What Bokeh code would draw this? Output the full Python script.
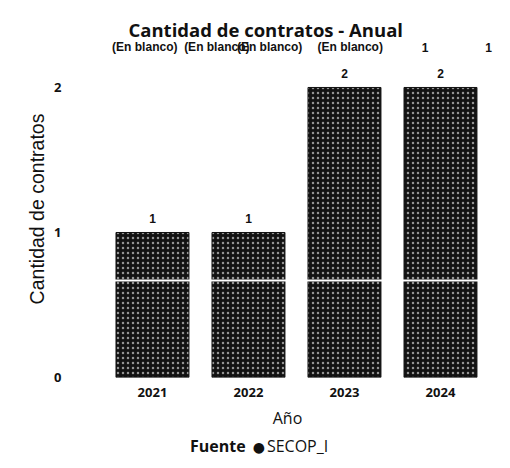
from bokeh.plotting import figure
from bokeh.models import ColumnDataSource, FixedTicker, Range1d, Span, Div
from bokeh.layouts import column
from bokeh.core.properties import value
from bokeh.embed import file_html
from bokeh.resources import INLINE

# ---- data ----
years = ["2021", "2022", "2023", "2024"]
counts = [1, 1, 2, 2]
extra_labels = ["(En blanco)", "(En blanco)", "(En blanco)", "(En blanco)", "1", "1"]
extra_pos = [-0.08, 0.67, 1.22, 2.06, 2.84, 3.5]   # label positions along the category axis
extra_level = 2.276                                 # label height in axis units
y_ticks = [0, 1, 2]
legend_title = "Fuente"
legend_item = "SECOP_I"

idx = list(range(len(years)))
HF = 432

p = figure(width=502, height=HF, output_backend="svg", toolbar_location=None,
           x_range=Range1d(-0.833, 3.646), y_range=Range1d(0, 2.324),
           min_border_left=72, min_border_right=0, min_border_top=40, min_border_bottom=HF - 377,
           title="Cantidad de contratos - Anual")
p.outline_line_color = None
p.background_fill_color = "white"
p.border_fill_color = "white"
p.xgrid.visible = False
p.ygrid.visible = False

p.title.text_font = "Open Sans"
p.title.text_font_size = "18.5px"
p.title.text_font_style = "bold"
p.title.text_color = "#111111"
p.title.align = "left"
p.title.offset = 56
p.title.standoff = -2

src = ColumnDataSource(dict(x=idx, top=counts, lab=[str(c) for c in counts]))
p.vbar(x="x", top="top", width=0.76, bottom=0, source=src,
       fill_color="#121212", line_color="#121212",
       hatch_pattern="dot", hatch_color="white", hatch_scale=5, hatch_weight=1, hatch_alpha=0.55)

p.add_layout(Span(location=0.669, dimension="width", line_color="white", line_width=2))

p.text(x="x", y="top", text="lab", source=src, text_align="center", text_baseline="bottom",
       y_offset=-9, text_font=value("Liberation Sans"), text_font_size="12px",
       text_font_style="bold", text_color="#111111")

esrc = ColumnDataSource(dict(x=extra_pos, y=[extra_level] * len(extra_pos), t=extra_labels))
p.text(x="x", y="y", text="t", source=esrc, text_align="center", text_baseline="middle",
       text_font=value("Liberation Sans"), text_font_size="12px", text_font_style="bold",
       text_color="#111111")

# axes
p.xaxis.ticker = FixedTicker(ticks=idx)
p.xaxis.major_label_overrides = {i: y for i, y in zip(idx, years)}
p.xaxis.axis_label = "Año"
p.yaxis.ticker = FixedTicker(ticks=y_ticks)
p.yaxis.axis_label = "Cantidad de contratos"
for ax in (p.xaxis, p.yaxis):
    ax.axis_line_color = None
    ax.major_tick_line_color = None
    ax.minor_tick_line_color = None
    ax.major_label_text_font = "Open Sans"
    ax.major_label_text_font_size = "13px"
    ax.major_label_text_font_style = "bold"
    ax.major_label_text_color = "#111111"
    ax.axis_label_text_font_style = "normal"
    ax.axis_label_text_color = "#111111"
p.xaxis.major_label_standoff = 4
p.xaxis.axis_label_text_font = "Open Sans"
p.xaxis.axis_label_text_font_size = "16px"
p.xaxis.axis_label_standoff = 7
p.yaxis.major_label_standoff = 5
p.yaxis.axis_label_text_font = "Liberation Sans"
p.yaxis.axis_label_text_font_size = "19.5px"
p.yaxis.axis_label_standoff = 3

# source legend row
legend_html = (f'<span style="font-weight:bold">{legend_title}</span>'
               f'<span style="font-family:\'DejaVu Sans\';font-size:14px;margin-left:7px;margin-right:2px">●</span>'
               f'{legend_item}')
div = Div(text=legend_html, width=312, height=34, margin=(3, 0, 0, 190),
          styles={"font-family": "Open Sans", "font-size": "16px", "color": "#111111",
                  "line-height": "22px", "white-space": "nowrap"})

layout = column(p, div, spacing=0)
open("out.html", "w").write(file_html(layout, INLINE))
